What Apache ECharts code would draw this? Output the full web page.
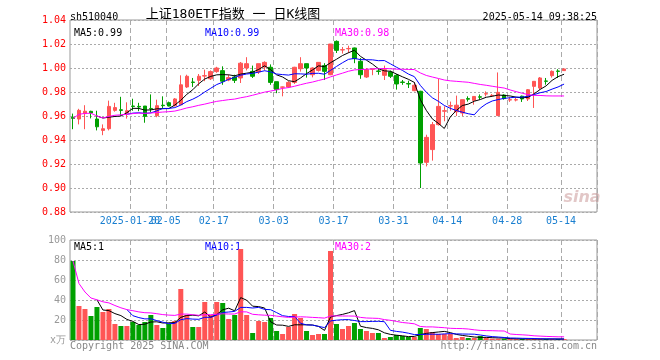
<!DOCTYPE html>
<html><head><meta charset="utf-8">
<script src="https://cdn.jsdelivr.net/npm/echarts@6/dist/echarts.min.js"></script>
<style>html,body{margin:0;padding:0;background:#fff}#c{width:660px;height:360px}</style>
</head><body><div id="c"></div>
<script>
const dates = ['2025-01-06','2025-01-07','2025-01-08','2025-01-09','2025-01-10','2025-01-13','2025-01-14','2025-01-15','2025-01-16','2025-01-17',
'2025-01-20','2025-01-21','2025-01-22','2025-01-23','2025-01-24','2025-01-27','2025-02-05','2025-02-06','2025-02-07','2025-02-10',
'2025-02-11','2025-02-12','2025-02-13','2025-02-14','2025-02-17','2025-02-18','2025-02-19','2025-02-20','2025-02-21','2025-02-24',
'2025-02-25','2025-02-26','2025-02-27','2025-02-28','2025-03-03','2025-03-04','2025-03-05','2025-03-06','2025-03-07','2025-03-10',
'2025-03-11','2025-03-12','2025-03-13','2025-03-14','2025-03-17','2025-03-18','2025-03-19','2025-03-20','2025-03-21','2025-03-24',
'2025-03-25','2025-03-26','2025-03-27','2025-03-28','2025-03-31','2025-04-01','2025-04-02','2025-04-03','2025-04-07','2025-04-08',
'2025-04-09','2025-04-10','2025-04-11','2025-04-14','2025-04-15','2025-04-16','2025-04-17','2025-04-18','2025-04-21','2025-04-22',
'2025-04-23','2025-04-24','2025-04-25','2025-04-28','2025-04-29','2025-04-30','2025-05-06','2025-05-07','2025-05-08','2025-05-09',
'2025-05-12','2025-05-13','2025-05-14'];
const open = [0.959,0.9575,0.962,0.9639,0.9575,0.948,0.9494,0.9647,0.9652,0.9625,
0.9683,0.968,0.9683,0.9663,0.9603,0.969,0.9711,0.9686,0.9694,0.9842,
0.9883,0.9897,0.9933,0.991,0.997,0.9978,0.990,0.9925,0.9917,1.000,
0.9972,0.9967,1.0008,1.0006,0.9886,0.984,0.9842,0.988,0.9994,1.0036,
0.9944,0.998,1.002,0.9944,1.0222,1.015,1.016,1.0167,1.0056,0.9925,
0.999,0.9975,0.9939,0.9967,0.9939,0.9883,0.987,0.9811,0.9806,0.9214,
0.932,0.9528,0.964,0.9683,0.9635,0.9625,0.9745,0.973,0.976,0.9783,
0.977,0.9603,0.9775,0.9733,0.9733,0.9765,0.9742,0.9847,0.9833,0.9892,
0.9936,0.9975,0.9978];
const close = [0.958,0.9647,0.964,0.9625,0.951,0.9494,0.968,0.967,0.9647,0.9644,
0.968,0.9675,0.9597,0.966,0.9686,0.9686,0.9683,0.9742,0.986,0.9931,
0.988,0.9931,0.9936,0.997,1.000,0.989,0.992,0.9897,1.004,1.0036,
0.9931,1.0036,1.0047,0.988,0.982,0.9842,0.988,1.0006,1.0036,1.000,
1.000,1.0047,0.9972,1.020,1.0147,1.0153,1.0163,1.0078,0.9944,0.9986,
0.9992,0.9972,0.9986,0.9931,0.9867,0.988,0.9867,0.9856,0.9208,0.9422,
0.9528,0.968,0.9644,0.9686,0.969,0.9736,0.974,0.9763,0.9757,0.9786,
0.9772,0.9797,0.9745,0.9736,0.9736,0.9742,0.9819,0.9889,0.9917,0.9889,
0.9972,0.9972,0.9992];
const low = [0.949,0.953,0.949,0.958,0.948,0.944,0.948,0.9636,0.960,0.9578,
0.9644,0.964,0.9544,0.963,0.959,0.9667,0.968,0.968,0.9694,0.9833,
0.9842,0.985,0.989,0.990,0.996,0.986,0.989,0.9875,0.9875,0.998,
0.9917,0.995,0.998,0.986,0.979,0.9764,0.9833,0.9867,0.997,0.992,
0.9922,0.997,0.990,0.994,1.0125,1.012,1.0125,1.004,0.991,0.9917,
0.994,0.9944,0.990,0.9917,0.982,0.986,0.9833,0.9806,0.900,0.918,
0.9228,0.952,0.9556,0.9644,0.960,0.960,0.972,0.9694,0.9736,0.9763,
0.9764,0.960,0.9736,0.9717,0.9722,0.9717,0.9725,0.9667,0.982,0.9861,
0.992,0.9917,0.9975];
const high = [0.962,0.966,0.969,0.9644,0.9644,0.953,0.9728,0.971,0.976,0.9714,
0.9744,0.971,0.9683,0.978,0.9736,0.9764,0.972,0.975,0.9939,0.9944,
0.9917,0.995,0.9986,0.998,1.001,1.0014,0.9944,0.9944,1.005,1.009,
1.002,1.0036,1.0056,1.003,0.9886,0.9845,0.989,1.001,1.009,1.0036,
1.0006,1.0047,1.004,1.020,1.023,1.0175,1.0186,1.017,1.0083,1.000,
0.9994,1.000,1.002,0.9978,0.995,0.990,0.9894,0.9883,0.981,0.9444,
0.955,0.991,0.968,0.972,0.977,0.9736,0.9764,0.9765,0.978,0.9805,
0.9783,0.9963,0.978,0.9756,0.975,0.977,0.9825,0.989,0.9925,0.9917,
0.998,0.999,0.9997];
const volume = [79,34,31,24,33,28,31,16,14,14,
18,15,18,25,15,12,16,19,51,25,
13,13,38,25,38,37,21,25,91,25,
7,19,18,22,9,6,13,26,22,9,
5,6,6,89,16,11,14,17,11,9,
7,7,2,3,5,4,3,3,12,11,
8,6,6,6,2,3,2,2,4,2,
1.3,1.3,1.3,1,1,1,1,1,1,1,
1,1,1];
const priceMA5 = [null,null,null,null,
0.9600,0.9583,0.9590,0.9596,0.9600,0.9627,0.9664,0.9663,0.9649,0.9651,
0.9660,0.9661,0.9662,0.9691,0.9731,0.9780,0.9819,0.9869,0.9908,0.9930,
0.9943,0.9945,0.9943,0.9935,0.9949,0.9957,0.9965,0.9988,1.0018,0.9986,
0.9943,0.9925,0.9894,0.9886,0.9917,0.9953,0.9984,1.0018,1.0011,1.0044,
1.0073,1.0104,1.0127,1.0148,1.0097,1.0065,1.0033,0.9994,0.9976,0.9973,
0.9950,0.9927,0.9906,0.9880,0.9736,0.9647,0.9576,0.9539,0.9496,0.9592,
0.9646,0.9687,0.9699,0.9723,0.9737,0.9756,0.9764,0.9775,0.9771,0.9767,
0.9757,0.9751,0.9756,0.9784,0.9821,0.9851,0.9897,0.9928,0.9948];
const priceMA10 = [null,null,null,null,null,null,null,null,null,
0.9614,0.9624,0.9627,0.9622,0.9626,0.9643,0.9663,0.9663,0.9670,0.9691,
0.9720,0.9740,0.9766,0.9800,0.9831,0.9862,0.9882,0.9906,0.9922,0.9940,
0.9950,0.9955,0.9966,0.9977,0.9968,0.9950,0.9945,0.9941,0.9952,0.9951,
0.9948,0.9955,0.9956,0.9948,0.9980,1.0013,1.0044,1.0072,1.0080,1.0070,
1.0069,1.0068,1.0061,1.0062,1.0035,1.0007,0.9980,0.9950,0.9928,0.9855,
0.9798,0.9752,0.9723,0.9688,0.9664,0.9646,0.9632,0.9619,0.9610,0.9665,
0.9701,0.9725,0.9737,0.9747,0.9752,0.9757,0.9757,0.9765,0.9778,0.9794,
0.9804,0.9824,0.9842,0.9866];
const priceMA30 = [0.9580,0.9614,0.9622,0.9623,0.9600,0.9583,0.9597,0.9606,0.9610,0.9614,
0.9620,0.9624,0.9622,0.9625,0.9629,0.9633,0.9636,0.9641,0.9653,0.9667,
0.9677,0.9689,0.9699,0.9711,0.9722,0.9729,0.9736,0.9741,0.9752,0.9761,
0.9773,0.9786,0.9799,0.9808,0.9818,0.9830,0.9837,0.9848,0.9861,0.9873,
0.9883,0.9896,0.9908,0.9926,0.9942,0.9957,0.9973,0.9984,0.9987,0.9989,
0.9993,0.9994,0.9996,0.9994,0.9990,0.9990,0.9988,0.9987,0.9959,0.9938,
0.9925,0.9913,0.9900,0.9893,0.9889,0.9885,0.9881,0.9872,0.9863,0.9856,
0.9848,0.9840,0.9833,0.9817,0.9803,0.9790,0.9778,0.9772,0.9771,0.9768,
0.9767,0.9767,0.9767];
const volMA5 = [null,null,null,null,
40.2,30,29.4,26.4,24.4,20.6,18.6,15.4,15.8,18,
18.2,17,17.2,17.4,22.6,24.6,24.8,24.2,28,22.8,
25.4,30.2,31.8,29.2,42.4,39.8,33.8,33.4,32,18.2,
15,14.8,13.6,15.2,15.2,15.2,15,13.6,9.6,23,
24.4,25.6,27.2,29.4,13.8,12.4,11.6,10.2,7.2,5.6,
4.8,4.2,3.4,3.6,5.4,6.6,7.4,8,8.6,7.4,
5.6,4.6,3.8,3,2.6,2.6,2.3,2.1,2,1.4,
1.2,1.1,1.1,1,1,1,1,1,1];
const volMA10 = [null,null,null,null,null,null,null,null,null,
30.4,24.3,22.4,21.1,21.2,19.4,17.8,16.3,16.6,20.3,
21.4,20.9,20.7,22.7,22.7,25,27.5,28,28.6,32.6,
32.6,32,32.6,30.6,30.3,27.4,24.3,23.5,23.6,16.7,
15.1,14.9,13.6,12.4,19.1,19.8,20.3,20.4,19.5,18.4,
18.4,18.6,18.7,18.3,9.7,8.6,7.9,6.8,5.4,5.5,
5.7,5.8,5.7,6.1,6.4,6.1,6,5.9,5.8,5,
4.1,3.4,3,2.5,2,1.9,1.7,1.6,1.5,1.2,
1.1,1.1,1,1];
const volMA30 = [79,56.5,48,42,40.2,38.2,37.1,34.5,32.2,30.4,
29.3,28.1,27.3,27.1,26.3,25.4,24.9,24.6,25.9,25.9,
25.3,24.7,25.3,25.3,25.8,26.2,26,26,28.2,28.1,
25.7,25.2,24.8,24.7,23.9,23.2,22.6,22.9,23.2,23,
22.6,22.3,21.9,24,24.1,24,24,23.9,22.6,22,
21.8,21.6,20.4,19.7,18.6,17.5,16.9,16.2,13.5,13.1,
13.1,12.7,12.3,11.7,11.5,11.4,11,10.2,9.6,9.4,
9.3,9.1,9,6,5.5,5.2,4.8,4.2,3.9,3.6,
3.4,3.2,3.2];
const tickDates = ['2025-01-20','2025-02-05','2025-02-17','2025-03-03','2025-03-17','2025-03-31','2025-04-14','2025-04-28','2025-05-14'];
const tickLabels = ['2025-01-20','02-05','02-17','03-03','03-17','03-31','04-14','04-28','05-14'];
const maTopLabels = ['MA5:0.99','MA10:0.99','MA30:0.98'];
const maVolLabels = ['MA5:1','MA10:1','MA30:2'];
const titleText = '上证180ETF指数 一 日K线图';
const codeText = 'sh510040';
const timeText = '2025-05-14 09:38:25';

const UP = '#FF5555', DOWN = '#00A000';
const MONO = '"DejaVu Sans Mono", monospace';
const cats = dates.concat(['p1','p2','p3','p4','p5']);
const isTick = (i, v) => tickDates.indexOf(v) >= 0;
// labels split over two overlaid axes so the overlapping first label is not auto-hidden
const isTickA = (i, v) => tickDates.indexOf(v) >= 1;
const isTickB = (i, v) => tickDates.indexOf(v) === 0;
const labelFmt = v => tickLabels[tickDates.indexOf(v)] || '';
const gridLineX = {show: true, interval: isTick, lineStyle: {color: '#aaa', width: 1, type: [5, 3]}};
const labelStyle = {hideOverlap: false, formatter: labelFmt, color: '#1a7fd0',
  fontFamily: 'DejaVu Sans Mono', fontSize: 10, margin: 4, padding: [0, 6, 0, 0]};

const chart = echarts.init(document.getElementById('c'), null, {renderer: 'canvas'});
const txt = (t, x, y, color, align, font) => ({type: 'text', x: x, y: y, silent: true,
  style: {text: t, fill: color, align: align || 'left', verticalAlign: 'middle', font: font || ('10px ' + MONO)}});
chart.setOption({
  animation: false,
  backgroundColor: '#fff',
  grid: [
    {left: 70, top: 20, width: 527, height: 192, show: true, borderColor: '#999', borderWidth: 1, backgroundColor: 'transparent'},
    {left: 70, top: 240, width: 527, height: 100, show: true, borderColor: '#999', borderWidth: 1, backgroundColor: 'transparent'}
  ],
  xAxis: [
    {type: 'category', gridIndex: 0, position: 'bottom', offset: 0, data: cats, boundaryGap: true,
     axisLine: {show: false}, axisTick: {show: false},
     axisLabel: Object.assign({interval: isTickA}, labelStyle),
     splitLine: gridLineX},
    {type: 'category', gridIndex: 1, data: cats, boundaryGap: true,
     axisLine: {show: false}, axisTick: {show: false}, axisLabel: {show: false},
     splitLine: gridLineX},
    {type: 'category', gridIndex: 0, position: 'bottom', offset: 0, data: cats, boundaryGap: true,
     axisLine: {show: false}, axisTick: {show: false}, splitLine: {show: false},
     axisLabel: Object.assign({interval: isTickB}, labelStyle)}
  ],
  yAxis: [
    {type: 'value', gridIndex: 0, min: 0.88, max: 1.04, interval: 0.02, scale: true,
     axisLine: {show: false}, axisTick: {show: false},
     axisLabel: {color: '#FF0000', fontFamily: 'DejaVu Sans Mono', fontSize: 10, margin: 4, formatter: v => v.toFixed(2)},
     splitLine: {lineStyle: {color: '#aaa', type: [2, 2]}}},
    {type: 'value', gridIndex: 1, min: 0, max: 100, interval: 20,
     axisLine: {show: false}, axisTick: {show: false},
     axisLabel: {color: '#999', fontFamily: 'DejaVu Sans Mono', fontSize: 10, margin: 4, formatter: v => v === 0 ? 'x万' : String(v)},
     splitLine: {lineStyle: {color: '#aaa', type: [2, 2]}}}
  ],
  series: [
    {type: 'candlestick', xAxisIndex: 0, yAxisIndex: 0, barWidth: 4, silent: true,
     data: dates.map((d, i) => [open[i], close[i], low[i], high[i]]),
     itemStyle: {color: UP, color0: DOWN, borderColor: UP, borderColor0: DOWN, borderWidth: 1}},
    {type: 'line', xAxisIndex: 0, yAxisIndex: 0, data: priceMA5, showSymbol: false, silent: true, z: 5,
     lineStyle: {color: '#000', width: 1}},
    {type: 'line', xAxisIndex: 0, yAxisIndex: 0, data: priceMA10, showSymbol: false, silent: true, z: 5,
     lineStyle: {color: '#0000FF', width: 1}},
    {type: 'line', xAxisIndex: 0, yAxisIndex: 0, data: priceMA30, showSymbol: false, silent: true, z: 5,
     lineStyle: {color: '#FF00FF', width: 1}},
    {type: 'bar', xAxisIndex: 1, yAxisIndex: 1, barWidth: 5, silent: true,
     data: volume.map((v, i) => ({value: v, itemStyle: {color: close[i] >= open[i] ? UP : DOWN}}))},
    {type: 'line', xAxisIndex: 1, yAxisIndex: 1, data: volMA5, showSymbol: false, silent: true, z: 5,
     lineStyle: {color: '#000', width: 1}},
    {type: 'line', xAxisIndex: 1, yAxisIndex: 1, data: volMA10, showSymbol: false, silent: true, z: 5,
     lineStyle: {color: '#0000FF', width: 1}},
    {type: 'line', xAxisIndex: 1, yAxisIndex: 1, data: volMA30, showSymbol: false, silent: true, z: 5,
     lineStyle: {color: '#FF00FF', width: 1}}
  ],
  graphic: [
    txt(codeText, 70, 17, '#000'),
    txt(titleText, 233, 15, '#000', 'center', '13px ' + MONO + ', "Noto Sans CJK SC"'),
    txt(timeText, 597, 17, '#000', 'right'),
    txt(maTopLabels[0], 74, 33, '#000'),
    txt(maTopLabels[1], 205, 33, '#0000FF'),
    txt(maTopLabels[2], 335, 33, '#FF00FF'),
    txt(maVolLabels[0], 74, 247, '#000'),
    txt(maVolLabels[1], 205, 247, '#0000FF'),
    txt(maVolLabels[2], 335, 247, '#FF00FF'),
    txt('Copyright 2025 SINA.COM', 70, 346, '#888'),
    txt('http://finance.sina.com.cn', 597, 346, '#888', 'right'),
    {type: 'text', x: 582, y: 198, silent: true,
     style: {text: 'sina', fill: 'rgba(190,130,130,0.45)', align: 'center', verticalAlign: 'middle',
       font: 'italic bold 16px "DejaVu Sans", sans-serif'}}
  ]
});
</script></body></html>
